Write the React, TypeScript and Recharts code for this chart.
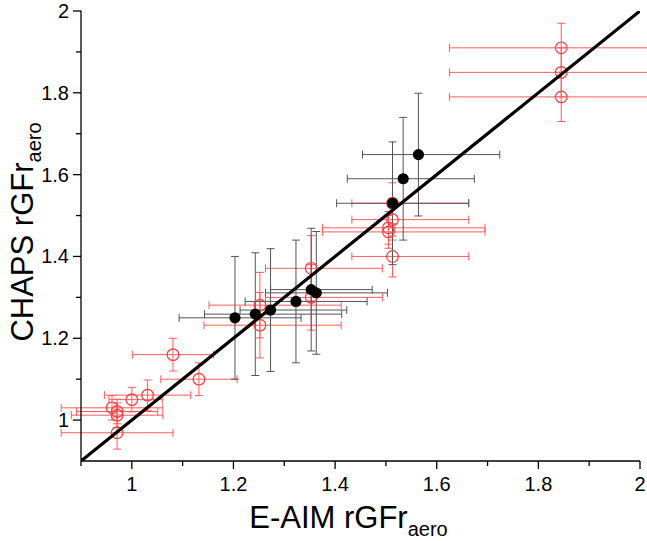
import React from "react";
import {
  ScatterChart,
  Scatter,
  XAxis,
  YAxis,
  ErrorBar,
  Label,
} from "recharts";

// E-AIM (x) vs CHAPS (y) rGFr_aero, open red circles
const redX = [1.845, 1.845, 1.845, 1.513, 1.513, 1.505, 1.505, 1.513, 1.353, 1.353, 1.252, 1.252, 1.132, 1.081, 1.031, 1.0, 0.961, 0.971, 0.971, 0.971];
const redY = [1.91, 1.85, 1.79, 1.53, 1.49, 1.47, 1.46, 1.4, 1.371, 1.3, 1.281, 1.232, 1.1, 1.16, 1.061, 1.05, 1.03, 1.021, 1.012, 0.969];
const redXErrLow = [0.22, 0.22, 0.22, 0.08, 0.08, 0.13, 0.13, 0.08, 0.09, 0.09, 0.1, 0.11, 0.075, 0.08, 0.085, 0.045, 0.1, 0.08, 0.09, 0.11];
const redXErrHigh = [0.25, 0.25, 0.25, 0.15, 0.15, 0.19, 0.19, 0.15, 0.14, 0.14, 0.16, 0.16, 0.075, 0.08, 0.085, 0.06, 0.1, 0.08, 0.09, 0.11];
const redYErr = [0.06, 0.06, 0.06, 0.05, 0.05, 0.04, 0.04, 0.05, 0.08, 0.08, 0.08, 0.08, 0.04, 0.04, 0.037, 0.03, 0.03, 0.03, 0.03, 0.04];

// filled black points
const blackX = [1.564, 1.534, 1.513, 1.363, 1.353, 1.323, 1.273, 1.243, 1.203];
const blackY = [1.649, 1.59, 1.53, 1.311, 1.319, 1.29, 1.269, 1.259, 1.25];
const blackXErrLow = [0.11, 0.11, 0.11, 0.1, 0.08, 0.1, 0.06, 0.1, 0.11];
const blackXErrHigh = [0.16, 0.14, 0.15, 0.14, 0.12, 0.14, 0.15, 0.17, 0.13];
const blackYErr = [0.15, 0.15, 0.15, 0.15, 0.15, 0.15, 0.15, 0.15, 0.15];

// 1:1 line
const oneToOne = [0.9, 2];

const ticks = [0.9, 1.0, 1.1, 1.2, 1.3, 1.4, 1.5, 1.6, 1.7, 1.8, 1.9, 2.0];

const FONT = "'Liberation Sans', Arial, sans-serif";

const redData = redX.map((x, i) => ({
  x,
  y: redY[i],
  ex: [redXErrLow[i], redXErrHigh[i]],
  ey: redYErr[i],
}));
const blackData = blackX.map((x, i) => ({
  x,
  y: blackY[i],
  ex: [blackXErrLow[i], blackXErrHigh[i]],
  ey: blackYErr[i],
}));
const lineData = oneToOne.map((v) => ({ x: v, y: v }));

const isMajor = (v: number) => Math.round(v * 10) % 2 === 0;
const fmt = (v: number) => String(Number(v.toFixed(1)));

function XTick(props: any) {
  const { x, y, payload } = props;
  const major = isMajor(payload.value);
  return (
    <g>
      <line x1={x} x2={x} y1={y} y2={y + (major ? 8 : 5)} stroke="#000" strokeWidth={1.3} />
      {major && (
        <text x={x} y={y + 30} textAnchor="middle" fontSize={20} fontFamily={FONT} fill="#000">
          {fmt(payload.value)}
        </text>
      )}
    </g>
  );
}

function YTick(props: any) {
  const { x, y, payload } = props;
  const major = isMajor(payload.value);
  if (payload.value < 0.95 && !major) {
    return <g />;
  }
  return (
    <g>
      <line x1={x} x2={x - (major ? 8 : 5)} y1={y} y2={y} stroke="#000" strokeWidth={1.3} />
      {major && (
        <text x={x - 12} y={y + 7} textAnchor="end" fontSize={20} fontFamily={FONT} fill="#000">
          {fmt(payload.value)}
        </text>
      )}
    </g>
  );
}

function XTitle(props: any) {
  const { viewBox } = props;
  const cx = viewBox.x + viewBox.width / 2 - 12;
  return (
    <text x={cx} y={viewBox.y + 67} textAnchor="middle" fontSize={31} fontFamily={FONT} fill="#000">
      E-AIM rGFr
      <tspan fontSize={20} dy={8}>aero</tspan>
    </text>
  );
}

function YTitle(props: any) {
  const { viewBox } = props;
  const cy = viewBox.y + viewBox.height / 2 - 4;
  return (
    <text
      x={33}
      y={cy}
      transform={`rotate(-90, 33, ${cy})`}
      textAnchor="middle"
      fontSize={31}
      fontFamily={FONT}
      fill="#000"
    >
      CHAPS rGFr
      <tspan fontSize={20} dy={8}>aero</tspan>
    </text>
  );
}

const OpenCircle = (p: any) => (
  <circle cx={p.cx} cy={p.cy} r={5.8} fill="none" stroke="#ff3b3b" strokeWidth={1.2} />
);
const Dot = (p: any) => <circle cx={p.cx} cy={p.cy} r={5.6} fill="#000" />;

export default function App() {
  return (
    <div style={{ position: "absolute", left: 0, top: 0, background: "#fff" }}>
      <ScatterChart width={647} height={541} margin={{ top: 11, right: 7, bottom: 0, left: 0 }}>
        <XAxis
          type="number"
          dataKey="x"
          domain={[0.9, 2]}
          allowDataOverflow
          ticks={ticks}
          interval={0}
          tickSize={0}
          tickMargin={0}
          tick={<XTick />}
          axisLine={{ stroke: "#000", strokeWidth: 1.3 }}
          height={80}
        >
          <Label content={<XTitle />} />
        </XAxis>
        <YAxis
          type="number"
          dataKey="y"
          domain={[0.9, 2]}
          allowDataOverflow
          ticks={ticks}
          interval={0}
          tickSize={0}
          tickMargin={0}
          tick={<YTick />}
          axisLine={{ stroke: "#000", strokeWidth: 1.3 }}
          width={81}
        >
          <Label content={<YTitle />} />
        </YAxis>
        <Scatter data={redData} shape={OpenCircle} isAnimationActive={false}>
          <ErrorBar dataKey="ex" direction="x" width={4} stroke="#ff5c5c" strokeWidth={1} isAnimationActive={false} />
          <ErrorBar dataKey="ey" direction="y" width={4} stroke="#ff5c5c" strokeWidth={1} isAnimationActive={false} />
        </Scatter>
        <Scatter data={blackData} shape={Dot} isAnimationActive={false}>
          <ErrorBar dataKey="ex" direction="x" width={4} stroke="#555" strokeWidth={1} isAnimationActive={false} />
          <ErrorBar dataKey="ey" direction="y" width={4} stroke="#555" strokeWidth={1} isAnimationActive={false} />
        </Scatter>
        <Scatter
          data={lineData}
          line={{ stroke: "#000", strokeWidth: 3.2 }}
          shape={() => <g />}
          isAnimationActive={false}
        />
      </ScatterChart>
    </div>
  );
}
